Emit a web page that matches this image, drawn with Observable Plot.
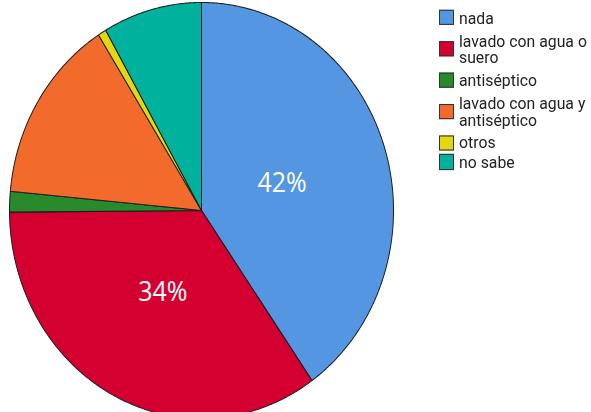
<!DOCTYPE html>
<html><head><meta charset="utf-8">
<script src="https://cdn.jsdelivr.net/npm/d3@7"></script>
<script src="https://cdn.jsdelivr.net/npm/@observablehq/plot@0.6"></script>
<style>
html,body{margin:0;padding:0;background:#fff;overflow:hidden;width:591px;height:412px;}
#wrap{position:relative;width:591px;height:380px;transform:scaleY(1.0833);transform-origin:0 0;}
#wrap svg{overflow:hidden;}
#legend{position:absolute;left:439px;top:7.5px;font-family:Roboto,sans-serif;font-size:15.8px;color:#222;}
.row{display:flex;align-items:center;padding:1.15px 0;}
.row.two{margin:4px 0;}
.sw{width:15px;height:14.5px;box-sizing:border-box;border:1px solid #333;flex:none;margin-right:5px;}
.lbl{width:134px;line-height:15.1px;white-space:normal;}
</style></head>
<body><div id="wrap"></div>
<script>
const categories = ["nada", "lavado con agua o suero", "antiséptico", "lavado con agua y antiséptico", "otros", "no sabe"];
const values = [40.2, 34.6, 1.6, 14.5, 0.7, 8.3];
const colors = ["#5596e3", "#d4002f", "#298a2c", "#f26a2c", "#e2d812", "#00b29e"];
const sliceLabels = ["42%", "34%", "", "", "", ""];

const pie = d3.pie().sort(null).value(d => d)(values);
const arcs = pie.map((p, i) => ({category: categories[i], start: p.startAngle, end: p.endAngle, label: sliceLabels[i]}));
const outline = [];
arcs.forEach(a => {
  outline.push({category: a.category, x: 0, y: 0});
  const n = Math.max(2, Math.ceil((a.end - a.start) / (Math.PI / 360)));
  for (let k = 0; k <= n; k++) {
    const t = a.start + (a.end - a.start) * k / n;
    outline.push({category: a.category, x: Math.sin(t), y: Math.cos(t)});
  }
  outline.push({category: a.category, x: 0, y: 0});
});
const labelData = arcs.filter(a => a.label).map(a => {
  const m = (a.start + a.end) / 2;
  return {x: 0.44 * Math.sin(m), y: 0.44 * Math.cos(m), text: a.label};
});

const chart = Plot.plot({
  width: 591, height: 386, margin: 0,
  style: {background: "white"},
  x: {axis: null, domain: [-1, 1], range: [9, 393]},
  y: {axis: null, domain: [-1, 1], range: [385.8, 1.8]},
  color: {domain: categories, range: colors},
  marks: [
    Plot.line(outline, {x: "x", y: "y", z: "category", fill: "category", stroke: "#1e1e1e", strokeWidth: 1, curve: "linear", strokeLinejoin: "miter"}),
    Plot.text(labelData, {x: "x", y: "y", text: "text", fill: "white", fontSize: 25, fontFamily: "'Open Sans', sans-serif"})
  ]
});
const wrap = document.getElementById("wrap");
wrap.appendChild(chart);

const legend = document.createElement("div");
legend.id = "legend";
categories.forEach((c, i) => {
  const row = document.createElement("div");
  row.className = "row" + (c.length > 16 ? " two" : "");
  const sw = document.createElement("div");
  sw.className = "sw";
  sw.style.background = colors[i];
  const lb = document.createElement("div");
  lb.className = "lbl";
  lb.textContent = c;
  row.appendChild(sw); row.appendChild(lb);
  legend.appendChild(row);
});
wrap.appendChild(legend);
</script>
</body></html>
